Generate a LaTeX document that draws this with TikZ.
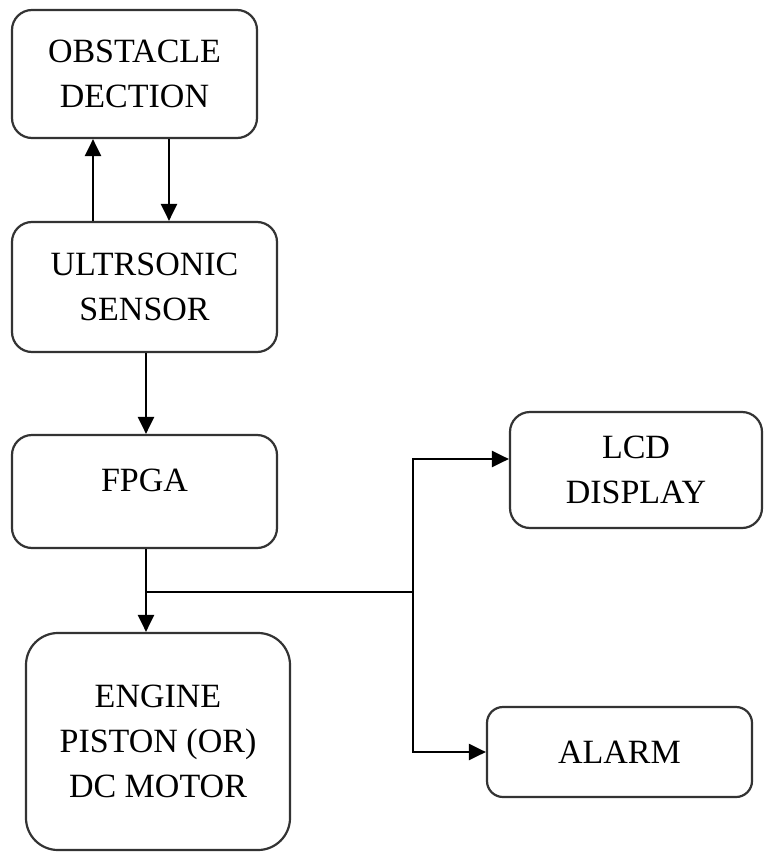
\documentclass[tikz,border=0pt]{standalone}
\usepackage{fontspec}
\setmainfont{Liberation Serif}
\usetikzlibrary{arrows.meta}
\begin{document}
\begin{tikzpicture}[x=1pt,y=-1pt,
  blk/.style={draw=black!80, line width=2.2pt, rounded corners=20pt, inner sep=0pt,
    align=center, font=\fontsize{34}{45}\selectfont},
  lbl/.style={inner sep=0pt, align=center, font=\fontsize{34}{45}\selectfont},
  conn/.style={line width=2.2pt, draw=black},
  arr/.style={conn, -{Triangle[length=17pt,width=16pt]}}]
\useasboundingbox (0,0) rectangle (763,867);
\fill[white] (0,0) rectangle (763,867);
\node[blk, minimum width=245pt, minimum height=128pt] (obst) at (134.5,74) {OBSTACLE\\DECTION};
\node[blk, minimum width=265pt, minimum height=130pt] (ultra) at (144.5,287) {ULTRSONIC\\SENSOR};
\node[blk, minimum width=265pt, minimum height=113pt] (fpga) at (144.5,491.5) {};
\node[lbl] (fpgat) at (144.5,480) {FPGA};
\node[blk, rounded corners=32pt, minimum width=264pt, minimum height=217pt] (engine) at (158,741.5) {ENGINE\\PISTON (OR)\\DC MOTOR};
\node[blk, minimum width=252pt, minimum height=116pt] (lcd) at (636,470) {LCD\\DISPLAY};
\node[blk, rounded corners=16pt, minimum width=265pt, minimum height=90pt] (alarm) at (619.5,752) {ALARM};
\coordinate (up) at (93,0);
\coordinate (dn) at (169,0);
\coordinate (fd) at (146,0);
\coordinate (j1) at (146,592);
\coordinate (j2) at (413,592);
\coordinate (lcdy) at (0,459);
\draw[arr] (ultra.north -| up) -- (obst.south -| up);
\draw[arr] (obst.south -| dn) -- (ultra.north -| dn);
\draw[arr] (ultra.south -| fd) -- (fpga.north -| fd);
\draw[arr] (fpga.south -| fd) -- (engine.north -| fd);
\draw[conn] (j1) -- (j2);
\draw[arr] (j2) |- (lcd.west |- lcdy);
\draw[arr] (j2) |- (alarm.west);
\end{tikzpicture}
\end{document}
